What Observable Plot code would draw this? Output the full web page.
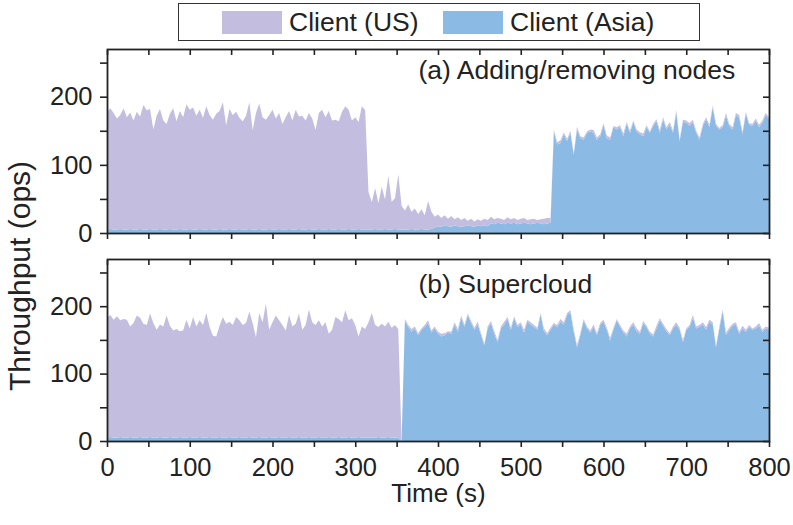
<!DOCTYPE html>
<html>
<head>
<meta charset="utf-8">
<script src="https://cdn.jsdelivr.net/npm/d3@7"></script>
<script src="https://cdn.jsdelivr.net/npm/@observablehq/plot@0.6"></script>
<style>
  html, body { margin: 0; padding: 0; background: #fff; }
  #wrap { position: relative; width: 793px; height: 525px; overflow: hidden;
          font-family: "Liberation Sans", Arial, Helvetica, sans-serif; color: #222; }
  #wrap svg { position: absolute; left: 0; }
  .legend-box { position: absolute; left: 178px; top: 3px; width: 522px; height: 38px;
                box-sizing: border-box; border: 1.5px solid #333; background: #fff; }
  .sw { position: absolute; width: 60px; height: 23px; top: 11px; }
  .lt { position: absolute; top: 8px; font-size: 26.5px; line-height: 28px; white-space: nowrap; }
  .ylab { position: absolute; left: 20px; top: 276px; font-size: 30px; white-space: nowrap;
          transform: translate(-50%, -50%) rotate(-90deg); }
</style>
</head>
<body>
<div id="wrap"></div>
<script>
// ---------------- data ----------------
const step = 4; // seconds between samples (t = index * step, 0..800)

const seriesNames = ["Client (US)", "Client (Asia)"];
const seriesColors = ["#C3BEDF", "#8BBBE4"];
const stackOrder = ["Client (Asia)", "Client (US)"]; // bottom -> top

const panelTitles = ["(a) Adding/removing nodes", "(b) Supercloud"];
const xTicks = [0, 50, 100, 150, 200, 250, 300, 350, 400, 450, 500, 550, 600, 650, 700, 750, 800];
const xTickLabels = [0, 100, 200, 300, 400, 500, 600, 700, 800];
const yTicks = [0, 50, 100, 150, 200, 250];
const yTickLabels = [0, 100, 200];

// Panel (a): Adding/removing nodes
const asiaA = [
  5,6,5,5,6,5,5,6,5,5,        // t 0-36
  6,5,5,6,5,5,6,5,5,6,        // t 40-76
  5,5,6,5,5,6,5,5,6,5,        // t 80-116
  5,6,5,5,6,5,5,6,5,5,        // t 120-156
  6,5,5,6,5,5,6,5,5,6,        // t 160-196
  5,5,6,5,5,6,5,5,6,5,        // t 200-236
  5,6,5,5,6,5,5,6,5,5,        // t 240-276
  6,5,5,6,5,5,6,5,5,5,        // t 280-316
  5,6,5,5,6,5,5,6,5,5,        // t 320-356
  5,5,6,5,5,6,5,5,6,8,        // t 360-396
  10,9,11,10,9,11,10,9,10,11, // t 400-436
  10,9,11,10,11,10,14,13,15,14, // t 440-476
  13,15,14,15,13,14,15,14,13,14, // t 480-516
  15,14,13,14,15,149,130,132,145,135, // t 520-556
  147,115,152,139,137,147,149,147,137,142, // t 560-596
  158,139,137,155,152,155,142,160,147,163, // t 600-636
  149,145,142,155,147,157,164,147,167,152, // t 640-676
  159,147,177,135,163,162,157,163,147,137, // t 680-716
  157,167,155,184,157,152,155,172,157,152, // t 720-756
  173,169,145,175,159,157,165,155,162,173, // t 760-796
  167                                       // t 800
];
const usA = [
  173,177,171,163,167,178,165,171,160,173,
  165,183,175,176,147,167,176,160,155,169,
  178,159,173,165,184,175,179,167,175,164,
  181,167,161,170,173,187,153,176,168,173,
  163,159,167,186,146,171,184,165,161,167,
  176,163,170,155,165,173,160,176,165,167,
  160,170,163,146,170,176,165,173,160,161,
  158,173,181,175,160,165,157,181,175,55,
  40,60,39,63,43,79,41,45,81,35,
  28,37,25,31,23,29,21,42,25,16,
  17,13,15,11,16,9,13,10,12,7,
  11,8,9,8,10,9,10,7,7,7,
  6,8,6,7,6,7,7,5,7,7,
  4,6,8,8,7,3,3,4,3,3,
  3,2,4,3,3,2,3,4,3,3,
  3,4,3,2,3,3,4,3,3,2,
  3,3,4,3,2,3,3,4,3,3,
  4,3,3,2,3,3,4,3,3,3,
  3,3,4,3,3,2,3,4,3,3,
  3,4,3,3,2,3,3,4,3,3,
  3
];

// Panel (b): Supercloud
const asiaB = [
  5,6,5,5,6,5,5,6,5,5,
  6,5,5,6,5,5,6,5,5,6,
  5,5,6,5,5,6,5,5,6,5,
  5,6,5,5,6,5,5,6,5,5,
  6,5,5,6,5,5,6,5,5,6,
  5,5,6,5,5,6,5,5,6,5,
  5,6,5,5,6,5,5,6,5,5,
  6,5,5,6,5,5,6,5,5,5,
  5,5,6,5,5,6,5,5,5,0,        // t 320-356
  178,169,162,167,157,165,169,175,161,167, // t 360-396
  159,155,157,161,159,173,162,183,169,187,
  175,165,173,157,142,167,175,159,147,167,
  173,181,165,183,169,173,161,177,173,169,
  165,187,163,157,165,173,169,177,173,187,
  191,162,139,157,179,167,161,169,157,172,
  177,165,149,165,179,169,161,155,167,173,
  163,159,175,169,159,155,167,179,171,163,
  157,167,172,165,147,165,169,183,167,169,
  173,165,177,173,139,167,192,157,165,171,
  173,159,167,162,169,165,167,171,162,167,
  165
];
const usB = [
  178,181,175,180,173,176,175,164,170,181,
  177,169,167,183,170,160,167,165,181,165,
  159,161,157,159,175,161,179,165,173,167,
  185,163,151,150,165,179,169,171,167,179,
  173,167,170,186,170,149,184,171,199,159,
  171,181,173,167,159,181,165,169,183,160,
  167,189,171,167,173,165,171,153,160,179,
  175,171,189,173,177,167,149,165,161,171,
  185,167,163,169,165,171,163,167,161,0,
  3,3,4,3,3,2,3,4,3,3,
  3,4,3,2,3,3,4,3,3,2,
  3,3,4,3,2,3,3,4,3,3,
  4,3,3,2,3,3,4,3,3,3,
  3,3,4,3,3,2,3,4,3,3,
  3,4,3,3,2,3,3,4,3,3,
  3,3,4,3,2,3,3,4,3,3,
  4,3,3,2,3,3,4,3,3,3,
  3,3,4,3,3,2,3,4,3,3,
  3,4,3,3,2,3,3,4,3,3,
  3,3,4,3,3,2,3,4,3,3,
  3
];

// ---------------- drawing ----------------
const FONT = '"Liberation Sans", Arial, Helvetica, sans-serif';
const INK = "#222";

function toRows(asia, us) {
  const out = [];
  asia.forEach((v, i) => out.push({t: i * step, series: "Client (Asia)", v}));
  us.forEach((v, i) => out.push({t: i * step, series: "Client (US)", v}));
  return out;
}

function panel({asia, us, title, titleDy, height, marginTop, marginBottom, showX}) {
  return Plot.plot({
    width: 793, height,
    marginLeft: 107, marginRight: 24, marginTop, marginBottom,
    style: {background: "transparent", overflow: "visible", fontFamily: FONT, color: INK},
    x: {domain: [0, 800]},
    y: {domain: [0, 270]},
    color: {domain: seriesNames, range: seriesColors},
    marks: [
      Plot.areaY(toRows(asia, us), {x: "t", y: "v", z: "series", fill: "series", order: stackOrder}),
      Plot.frame({stroke: INK, strokeWidth: 1.8}),
      Plot.axisY({ticks: yTicks, tickSize: 7, tickPadding: 8, fontSize: 25.5, strokeWidth: 1.6,
                  tickFormat: d => yTickLabels.includes(d) ? String(d) : "", label: null}),
      Plot.axisY({anchor: "right", ticks: yTicks, tickSize: 7, dx: -7, strokeWidth: 1.6,
                  tickFormat: () => "", label: null}),
      Plot.axisX({anchor: "top", ticks: xTicks, tickSize: 5, dy: 5, strokeWidth: 1.6,
                  tickFormat: () => "", label: null}),
      Plot.axisX({anchor: "bottom", ticks: xTicks, tickSize: 6, tickPadding: 10, fontSize: 25.5, strokeWidth: 1.6,
                  tickFormat: d => (showX && xTickLabels.includes(d)) ? String(d) : "", label: null}),
      Plot.text([title], {text: d => d, frameAnchor: "top-left", dx: 311, dy: titleDy,
                          textAnchor: "start", lineAnchor: "middle", fontSize: 26.5, fill: INK}),
      showX ? Plot.text(["Time (s)"], {text: d => d, frameAnchor: "bottom", dy: 42,
                                       lineAnchor: "top", fontSize: 26, fill: INK}) : null
    ]
  });
}

const wrap = document.getElementById("wrap");

const pa = panel({asia: asiaA, us: usA, title: panelTitles[0], titleDy: 21,
                  height: 245, marginTop: 49, marginBottom: 12, showX: false});
pa.style.top = "0px";
wrap.appendChild(pa);

const pb = panel({asia: asiaB, us: usB, title: panelTitles[1], titleDy: 25,
                  height: 280, marginTop: 14, marginBottom: 84, showX: true});
pb.style.top = "245px";
wrap.appendChild(pb);

// legend
const legend = document.createElement("div");
legend.className = "legend-box";
wrap.appendChild(legend);
const swX = [222, 443], txX = [289, 510];
seriesNames.forEach((name, i) => {
  const sw = document.createElement("div");
  sw.className = "sw";
  sw.style.left = swX[i] + "px";
  sw.style.background = seriesColors[i];
  wrap.appendChild(sw);
  const tx = document.createElement("div");
  tx.className = "lt";
  tx.style.left = txX[i] + "px";
  tx.textContent = name;
  wrap.appendChild(tx);
});

// shared y label
const yl = document.createElement("div");
yl.className = "ylab";
yl.textContent = "Throughput (ops)";
wrap.appendChild(yl);
</script>
</body>
</html>
